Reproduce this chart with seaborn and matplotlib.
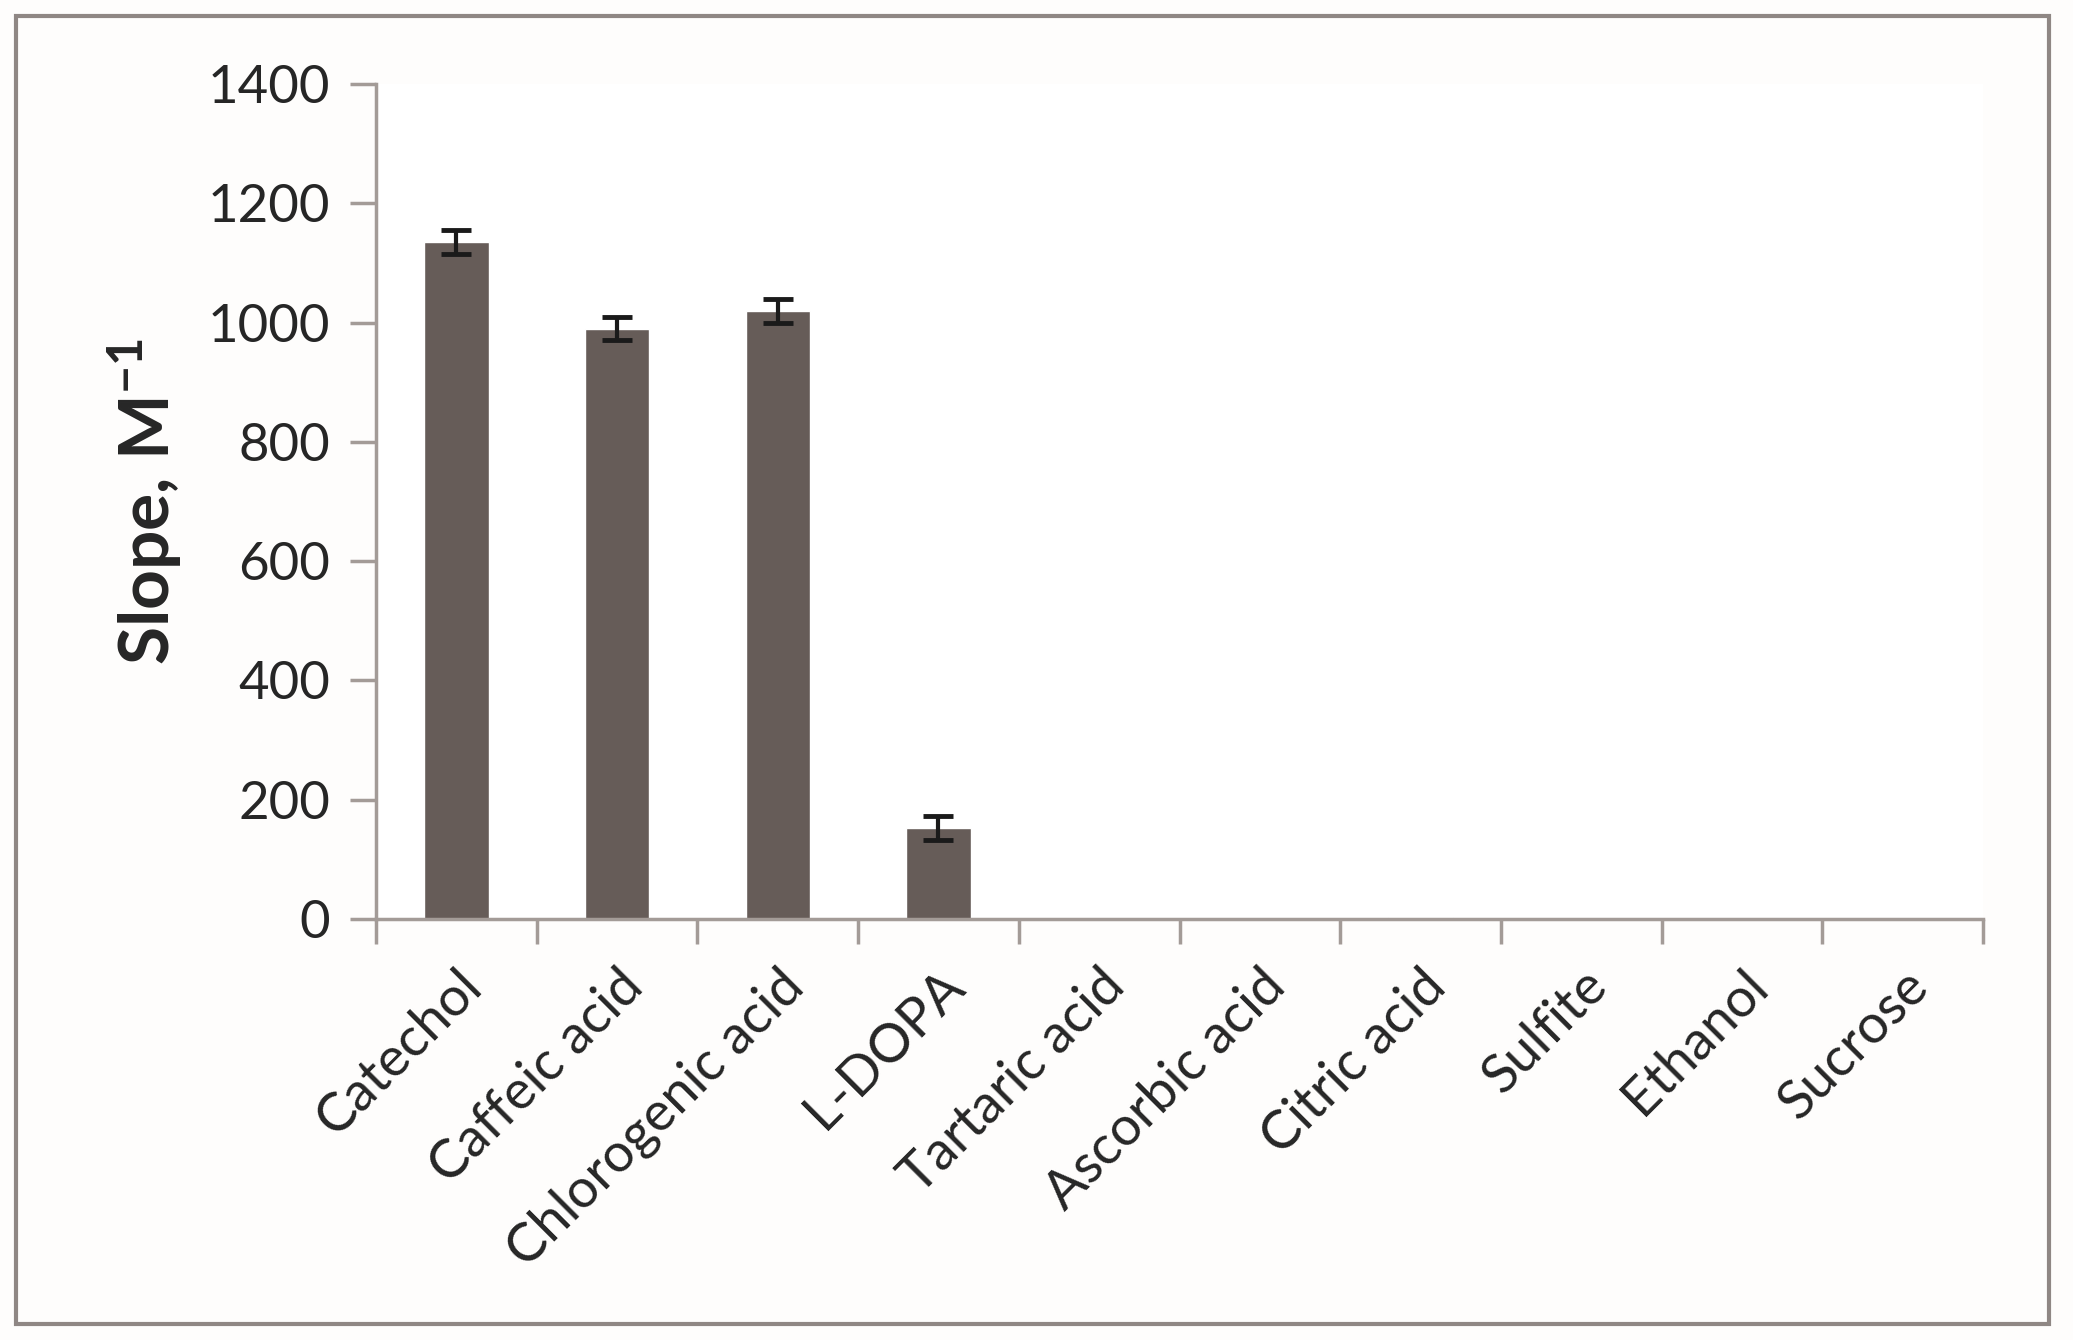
import numpy as np
import pandas as pd
import matplotlib
matplotlib.use('Agg')
import matplotlib.pyplot as plt
import seaborn as sns
from matplotlib.patches import Rectangle

compounds = ['Catechol', 'Caffeic acid', 'Chlorogenic acid', 'L-DOPA', 'Tartaric acid',
             'Ascorbic acid', 'Citric acid', 'Sulfite', 'Ethanol', 'Sucrose']
slope = [1135, 990, 1020, 152, 0, 0, 3, 0, 0, 2]
err = [20, 20, 20, 20, 0, 0, 0, 0, 0, 0]
yticks = [0, 200, 400, 600, 800, 1000, 1200, 1400]

df = pd.DataFrame({'compound': compounds, 'slope': slope, 'err': err})

sns.set_style('white')
plt.rcParams['font.family'] = ['Lato', 'DejaVu Sans']
plt.rcParams['mathtext.fontset'] = 'custom'
plt.rcParams['mathtext.rm'] = 'Lato:bold'
plt.rcParams['mathtext.bf'] = 'Lato:bold'

axis_col = '#a39b97'
bar_col = '#665c58'

fig = plt.figure(figsize=(20.73, 13.4), dpi=100)
ax = fig.add_axes([0.1814, 0.3142, 0.7752, 0.6231])

sns.barplot(data=df, x='compound', y='slope', color=bar_col, width=0.4,
            saturation=1, ax=ax, errorbar=None)
# error bars only where there is an error
m = df['err'] > 0
ax.errorbar(np.arange(len(df))[m], df['slope'][m], yerr=df['err'][m], fmt='none',
            ecolor='#1a1a1a', elinewidth=3, capsize=11, capthick=3.5)

ax.set_xlim(-0.5, len(df) - 0.5)
ax.set_ylim(0, 1400)
ax.set_yticks(yticks)
ax.set_yticklabels([str(t) for t in yticks], fontsize=38, color='#262626')

# ticks sit on category boundaries
ax.set_xticks(np.arange(len(df)))
ax.set_xticklabels(compounds, rotation=45, ha='right', rotation_mode='anchor',
                   fontsize=39, color='#262626')
ax.set_xticks(np.arange(-0.5, len(df)), minor=True)
ax.tick_params(axis='x', which='major', length=0, pad=30, bottom=True)
ax.tick_params(axis='x', which='minor', length=18, width=2.5, color=axis_col,
               direction='out', bottom=True)
ax.tick_params(axis='y', length=19, width=2.5, color=axis_col, direction='out',
               pad=14, left=True)

ax.set_xlabel('')
ax.set_ylabel('Slope, M$^{\\mathrm{-1}}$', fontsize=50, fontweight='bold', labelpad=16)

sns.despine(ax=ax)
for s in ['left', 'bottom']:
    ax.spines[s].set_color(axis_col)
    ax.spines[s].set_linewidth(2.5)

fig.patches.append(Rectangle((0.0077, 0.012), 0.9807, 0.976, transform=fig.transFigure,
                             fill=False, edgecolor='#8f8784', linewidth=3))

fig.savefig('out.png', dpi=100, facecolor='#fefdfc')
